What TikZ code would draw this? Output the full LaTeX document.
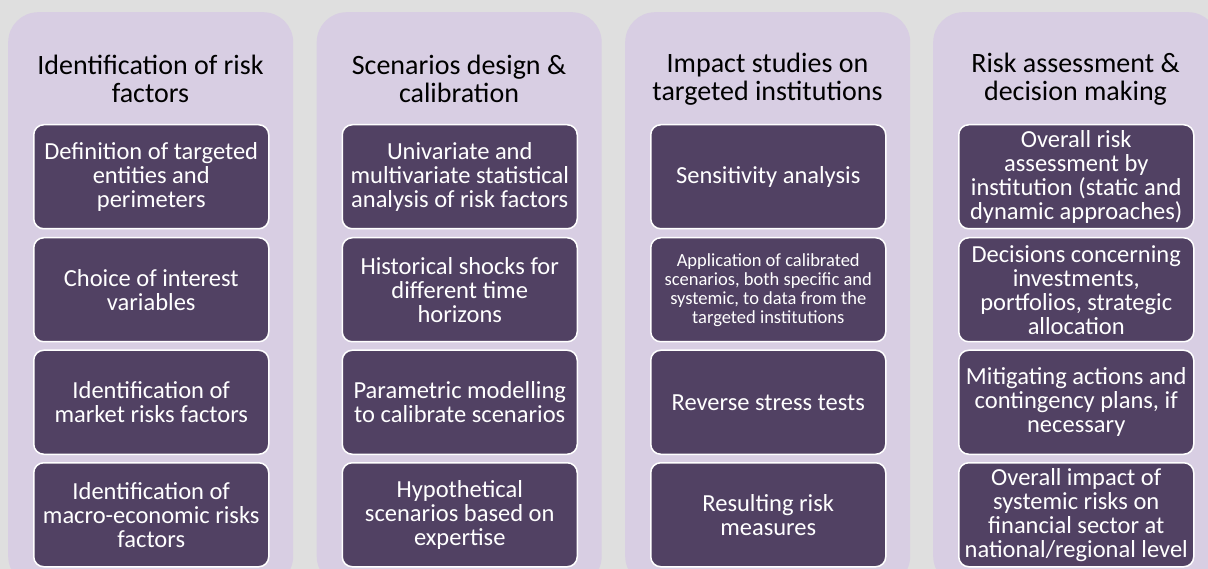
\documentclass[tikz,border=0pt]{standalone}
\usepackage{fontspec}
\setmainfont{Carlito}
\definecolor{bg}{HTML}{DFDFDF}
\definecolor{panel}{HTML}{D8CEE3}
\definecolor{dark}{HTML}{514163}
\tikzset{
  panelbox/.style={fill=panel, rounded corners=30pt, minimum width=285pt, minimum height=574pt, anchor=north west, inner sep=0pt},
  title/.style={font=\fontsize{28}{28}\selectfont, align=center, text=black, anchor=center},
  item/.style={fill=dark, draw=white, line width=1.5pt, rounded corners=10pt, minimum width=235pt, minimum height=104pt, inner sep=0pt, align=center, text=white, font=\fontsize{24.5}{24}\selectfont, anchor=north west},
  smallitem/.style={item, font=\fontsize{18.5}{19}\selectfont}
}
\begin{document}
\begin{tikzpicture}[x=1pt,y=1pt]
\useasboundingbox (0,0) rectangle (1208,-569);
\clip (0,0) rectangle (1208,-569);
\fill[bg] (0,0) rectangle (1208,-569);
% panels
\node[panelbox] (p1) at (8,-12) {};
\node[panelbox] (p2) at (316.5,-12) {};
\node[panelbox] (p3) at (625,-12) {};
\node[panelbox] (p4) at (933,-12) {};
% titles
\node[title] (t1) at (150.5,-79) {Identification of risk\\factors};
\node[title] (t2) at (459,-79) {Scenarios design \&\\calibration};
\node[title] (t3) at (767.5,-79) {Impact studies on\\targeted institutions};
\node[title] (t4) at (1075.5,-79) {Risk assessment \&\\decision making};
% column 1
\node[item] (a1) at (33,-124) {Definition of targeted\\entities and\\perimeters};
\node[item] (a2) at (33,-237) {Choice of interest\\variables};
\node[item] (a3) at (33,-349.5) {Identification of\\market risks factors};
\node[item] (a4) at (33,-462) {Identification of\\macro-economic risks\\factors};
% column 2
\node[item] (b1) at (341.5,-124) {Univariate and\\multivariate statistical\\analysis of risk factors};
\node[item] (b2) at (341.5,-237) {Historical shocks for\\different time\\horizons};
\node[item] (b3) at (341.5,-349.5) {Parametric modelling\\to calibrate scenarios};
\node[item] (b4) at (341.5,-462) {Hypothetical\\scenarios based on\\expertise};
% column 3
\node[item] (c1) at (650,-124) {Sensitivity analysis};
\node[smallitem] (c2) at (650,-237) {Application of calibrated\\scenarios, both specific and\\systemic, to data from the\\targeted institutions};
\node[item] (c3) at (650,-349.5) {Reverse stress tests};
\node[item] (c4) at (650,-462) {Resulting risk\\measures};
% column 4
\node[item] (d1) at (958,-124) {Overall risk\\assessment by\\institution (static and\\dynamic approaches)};
\node[item] (d2) at (958,-237) {Decisions concerning\\investments,\\portfolios, strategic\\allocation};
\node[item] (d3) at (958,-349.5) {Mitigating actions and\\contingency plans, if\\necessary};
\node[item] (d4) at (958,-462) {Overall impact of\\systemic risks on\\financial sector at\\national/regional level};
\end{tikzpicture}
\end{document}
